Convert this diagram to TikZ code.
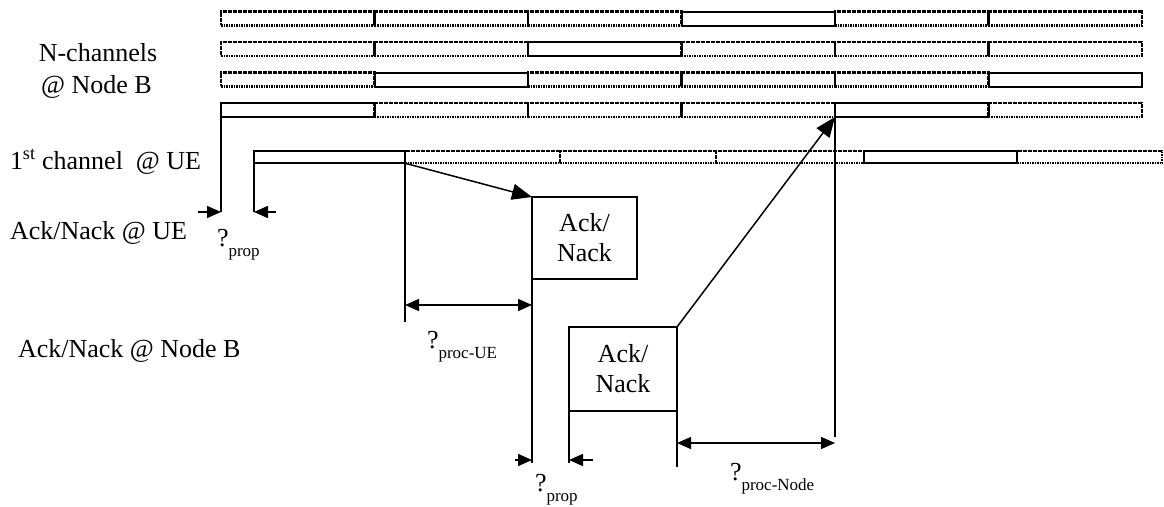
\documentclass[tikz,border=0pt]{standalone}
\usepackage{fontspec}
\setmainfont{Liberation Serif}
\usetikzlibrary{arrows.meta}

\newcommand{\taulbl}[1]{?\raisebox{-10pt}{\fontsize{17}{20}\selectfont #1}}

\begin{document}
\begin{tikzpicture}[x=1pt, y=-1pt,
    every node/.style={font=\fontsize{26}{30}\selectfont, inner sep=0pt, outer sep=0pt},
    dotslot/.style={draw, line width=2.3pt, dash pattern=on 1.7pt off 0.8pt, minimum height=14pt},
    solidslot/.style={draw, line width=2pt, minimum height=14pt},
    ackbox/.style={draw, line width=1.5pt, align=center},
    conn/.style={line width=1.5pt},
    tip/.style={conn, -{Triangle[length=14pt, width=12pt]}},
    bigtip/.style={conn, -{Triangle[length=20pt, width=16pt]}},
    dbl/.style={conn, {Triangle[length=14pt, width=12pt]}-{Triangle[length=14pt, width=12pt]}}]
    \useasboundingbox (0,0) rectangle (1164,506);

    % Node B の N チャネル（4行 x 6スロット）
    \pgfmathsetmacro{\w}{153.5}
    \foreach \r in {1,...,4} {
        \foreach \c in {1,...,6} {
            \pgfmathtruncatemacro{\m}{mod(\r+\c,4)}
            \ifnum\m=1 \def\st{solidslot}\else\def\st{dotslot}\fi
            \node[\st, minimum width=\w pt] (n\r-\c) at ({221+\w*(\c-0.5)}, {18.5+30.5*(\r-1)}) {};
        }
    }

    % UE 側の第1チャネル
    \foreach \i/\xa/\xb/\st in {1/254/405/solidslot, 2/405/560/dotslot, 3/560/716/dotslot,
                                4/716/864/dotslot, 5/864/1017/solidslot, 6/1017/1162/dotslot} {
        \node[\st, minimum width={(\xb-\xa)*1pt}, minimum height=12.5pt] (ue\i) at ({(\xa+\xb)/2}, 157) {};
    }

    % 左側のラベル
    \node[anchor=base] (lblnch) at (98,61) {N-channels};
    \node[anchor=base] (lblnb) at (96.5,93) {@ Node B};
    \node[anchor=base west] (lblue) at (10,169) {1\textsuperscript{st} channel\ \ @ UE};
    \node[anchor=base west] (lblackue) at (10,239) {Ack/Nack @ UE};
    \node[anchor=base west] (lblacknb) at (18,357) {Ack/Nack @ Node B};

    % Ack/Nack ボックス
    \node[ackbox, minimum width=105pt, minimum height=82pt] (ackue) at (584.5,238) {Ack/\\Nack};
    \node[ackbox, minimum width=108pt, minimum height=84pt] (acknb) at (623,369) {Ack/\\Nack};

    % 伝搬遅延（UE）
    \coordinate (pa) at (221,212);
    \coordinate (pb) at (254,212);
    \coordinate (pal) at (198,212);
    \coordinate (pbr) at (276,212);
    \draw[conn] (n4-1.south west) -- (pa);
    \draw[conn] (ue1.south west) -- (pb);
    \draw[tip] (pal) -- (pa);
    \draw[tip] (pbr) -- (pb);
    \node[anchor=base west] (tprop1) at (217,246) {\taulbl{prop}};

    % UE の処理時間
    \coordinate (ua) at (405,322);
    \coordinate (da) at (405,305);
    \coordinate (db) at (532,305);
    \draw[conn] (ue1.south east) -- (ua);
    \draw[bigtip] (ue1.south east) -- (ackue.north west);
    \draw[dbl] (da) -- (db);
    \node[anchor=base west] (tprocue) at (427,348) {\taulbl{proc-UE}};

    % 伝搬遅延（Node B）
    \coordinate (qa) at (532,463);
    \coordinate (qb) at (569,463);
    \coordinate (qal) at (515,460);
    \coordinate (qar) at (532,460);
    \coordinate (qbl) at (569,460);
    \coordinate (qbr) at (593,460);
    \draw[conn] (ackue.south west) -- (qa);
    \draw[conn] (acknb.south west) -- (qb);
    \draw[tip] (qal) -- (qar);
    \draw[tip] (qbr) -- (qbl);
    \node[anchor=base west] (tprop2) at (535,491) {\taulbl{prop}};

    % Node B の処理時間
    \coordinate (nd) at (835,437);
    \coordinate (ne) at (677,467);
    \coordinate (ea) at (677,443);
    \coordinate (eb) at (835,443);
    \draw[bigtip] (acknb.north east) -- (n4-5.south west);
    \draw[conn] (n4-5.south west) -- (nd);
    \draw[conn] (acknb.south east) -- (ne);
    \draw[dbl] (ea) -- (eb);
    \node[anchor=base west] (tprocnb) at (730,480) {\taulbl{proc-Node}};
\end{tikzpicture}
\end{document}
